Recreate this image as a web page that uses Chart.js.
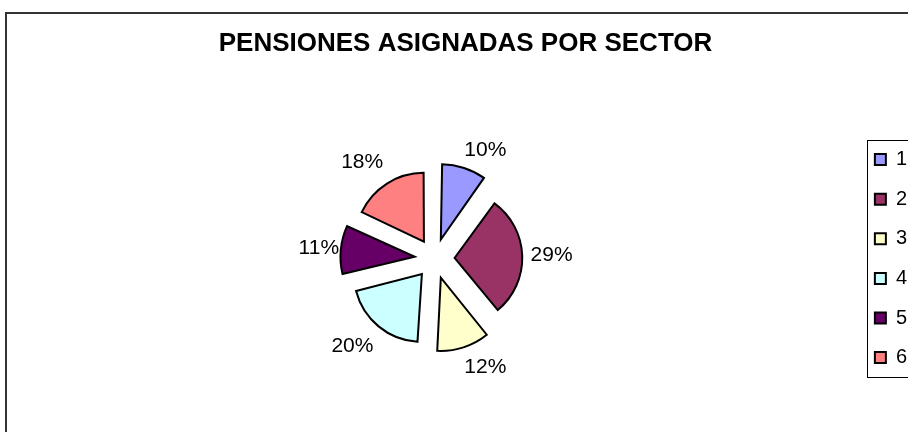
<!DOCTYPE html>
<html>
<head>
<meta charset="utf-8">
<title>Pensiones asignadas por sector</title>
<script src="https://cdn.jsdelivr.net/npm/chart.js@4"></script>
<style>
  html, body { margin: 0; padding: 0; background: #fff; overflow: hidden; }
  #wrap { position: relative; width: 940px; height: 470px; }
</style>
</head>
<body>
<div id="wrap"><canvas id="pieChart" width="940" height="470"></canvas></div>
<script>
// --- Données du graphique ---
const titulo = 'PENSIONES ASIGNADAS POR SECTOR';
const sectores = ['1', '2', '3', '4', '5', '6'];
const porcentajes = [10, 29, 12, 20, 11, 18];
const colores = ['#9999FF', '#993366', '#FFFFCC', '#CCFFFF', '#660066', '#FF8080'];

const fuente = "'Liberation Sans', Arial, sans-serif";

// --- Cadre général (fond blanc + bordure grise) ---
const marcoPlugin = {
    id: 'marco',
    beforeDraw(chart) {
        const ctx = chart.ctx;
        ctx.save();
        ctx.fillStyle = '#fff';
        ctx.fillRect(0, 0, chart.width, chart.height);
        ctx.strokeStyle = '#333';
        ctx.lineWidth = 2;
        ctx.strokeRect(6, 13, chart.width + 20, chart.height + 20);
        ctx.restore();
    }
};

// --- Étiquettes de pourcentage autour du camembert ---
// le texte est poussé horizontalement de sa demi-largeur, comme dans Excel
const etiquetasPlugin = {
    id: 'etiquetas',
    afterDatasetsDraw(chart) {
        const ctx = chart.ctx;
        const meta = chart.getDatasetMeta(0);
        const total = porcentajes.reduce((a, b) => a + b, 0);
        ctx.save();
        ctx.font = '21px ' + fuente;
        ctx.fillStyle = '#000';
        ctx.textAlign = 'center';
        ctx.textBaseline = 'middle';
        meta.data.forEach((arc, i) => {
            const texto = Math.round(porcentajes[i] * 100 / total) + '%';
            const mid = (arc.startAngle + arc.endAngle) / 2;
            const c = Math.cos(mid);
            const demi = ctx.measureText(texto).width / 2;
            const x = arc.x + c * 96 + Math.sign(c) * demi;
            const y = arc.y + Math.sin(mid) * 114;
            ctx.fillText(texto, x, y);
        });
        ctx.restore();
    }
};

// --- Cadre autour de la légende ---
const leyendaPlugin = {
    id: 'marcoLeyenda',
    afterDraw(chart) {
        const cajas = chart.legend.legendHitBoxes;
        if (!cajas || !cajas.length) return;
        const primera = cajas[0];
        const ultima = cajas[cajas.length - 1];
        const ctx = chart.ctx;
        ctx.save();
        ctx.strokeStyle = '#000';
        ctx.lineWidth = 1;
        const left = Math.round(primera.left - 8) + 0.5;
        const top = Math.round(primera.top - 10) + 0.5;
        const bottom = Math.round(ultima.top + ultima.height + 9) + 0.5;
        ctx.strokeRect(left, top, chart.width, bottom - top);
        ctx.restore();
    }
};

let pieChart;

document.addEventListener('DOMContentLoaded', () => {
    const ctx = document.getElementById('pieChart').getContext('2d');
    pieChart = new Chart(ctx, {
        type: 'pie',
        data: {
            labels: sectores,
            datasets: [{
                data: porcentajes,
                backgroundColor: colores,
                borderColor: '#000',
                borderWidth: 2,
                borderJoinStyle: 'miter',
                offset: 80,
                radius: 67
            }]
        },
        options: {
            responsive: false,
            animation: false,
            devicePixelRatio: 1,
            layout: {
                padding: { top: 0, left: 14, right: 23, bottom: 22 }
            },
            plugins: {
                title: {
                    display: true,
                    text: titulo,
                    color: '#000',
                    font: { family: fuente, size: 26, weight: 'bold' },
                    padding: { top: 28, bottom: 10 }
                },
                legend: {
                    display: true,
                    position: 'right',
                    fullSize: false,
                    labels: {
                        color: '#000',
                        font: { family: fuente, size: 20 },
                        boxWidth: 11,
                        boxHeight: 11,
                        padding: 19.6
                    }
                },
                tooltip: { enabled: false }
            }
        },
        plugins: [marcoPlugin, etiquetasPlugin, leyendaPlugin]
    });
});
</script>
</body>
</html>
